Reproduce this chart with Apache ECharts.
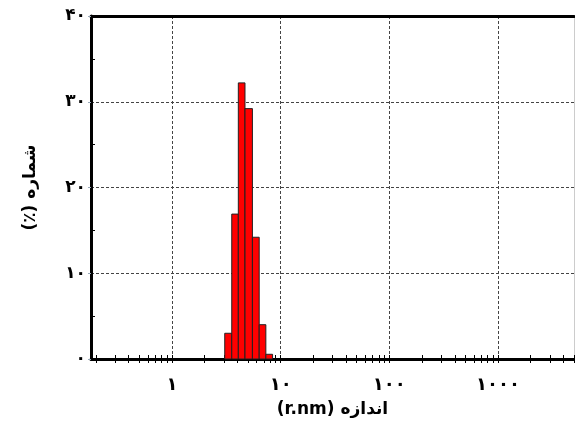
<!DOCTYPE html>
<html>
<head>
<meta charset="utf-8">
<script src="https://cdn.jsdelivr.net/npm/echarts@6/dist/echarts.min.js"></script>
<style>html,body{margin:0;padding:0;background:#fff}#c{width:575px;height:436px}</style>
</head>
<body>
<div id="c"></div>
<script>
// Bin edges (r.nm) and percentages
const binEdges = [3.06, 3.55, 4.08, 4.70, 5.50, 6.35, 7.31, 8.43];
const binValues = [3.0, 16.9, 32.2, 29.2, 14.2, 4.0, 0.55];
const xLabelValues = [1, 10, 100, 1000];
const xMinorTicks = [0.2,0.3,0.4,0.5,0.6,0.7,0.8,0.9,1,2,3,4,5,6,7,8,9,10,20,30,40,50,60,70,80,90,100,200,300,400,500,600,700,800,900,1000,2000,3000,4000,5000];
const yTicks = [0, 10, 20, 30, 40];
const yMinorTicks = [5, 15, 25, 35];
// visual (left-to-right) order of the right-to-left titles
const xTitle = '(r.nm) اندازه';
const yTitle = '(٪) شماره';

const fa = v => String(v).replace(/\d/g, d => '۰۱۲۳۴۵۶۷۸۹'[+d]);
const data = binValues.map((v, i) => [binEdges[i], binEdges[i + 1], v]);
const X_MIN = 0.18, X_MAX = 5000;
const FONT = 'DejaVu Sans';

const chart = echarts.init(document.getElementById('c'));
const baseX = {type: 'log', logBase: 10, min: X_MIN, max: X_MAX, gridIndex: 0};
const baseY = {type: 'value', min: 0, max: 40, interval: 10, gridIndex: 0};
chart.setOption({
  animation: false,
  grid: {left: 91, right: 1, top: 16, bottom: 77},
  xAxis: [
    Object.assign({}, baseX, {
      position: 'bottom',
      axisLine: {show: true, lineStyle: {color: '#000', width: 3}},
      axisTick: {show: false, customValues: xLabelValues},
      axisLabel: {customValues: xLabelValues, formatter: v => fa(Math.round(v)), color: '#000', fontFamily: FONT, fontWeight: 'bold', fontSize: 18, margin: 17},
      splitLine: {show: true, lineStyle: {color: '#444', type: [3, 2], width: 1}},
      name: xTitle, nameLocation: 'middle', nameGap: 42,
      nameTextStyle: {color: '#000', fontFamily: FONT, fontWeight: 'bold', fontSize: 17}
    }),
    Object.assign({}, baseX, {
      position: 'bottom',
      axisLine: {show: false},
      axisTick: {show: true, inside: true, length: 4, customValues: xMinorTicks, lineStyle: {color: '#000', width: 1}},
      axisLabel: {show: false},
      splitLine: {show: false}
    }),
    Object.assign({}, baseX, {
      position: 'bottom',
      axisLine: {show: false},
      axisTick: {show: true, inside: false, length: 4, customValues: xMinorTicks, lineStyle: {color: '#000', width: 1}},
      axisLabel: {show: false},
      splitLine: {show: false}
    }),
    Object.assign({}, baseX, {
      position: 'top',
      axisLine: {show: true, lineStyle: {color: '#000', width: 3}},
      axisTick: {show: false},
      axisLabel: {show: false},
      splitLine: {show: false}
    })
  ],
  yAxis: [
    Object.assign({}, baseY, {
      position: 'left',
      axisLine: {show: true, lineStyle: {color: '#000', width: 3}},
      axisTick: {show: true, length: 3, customValues: yTicks, lineStyle: {color: '#9ab', width: 1}},
      axisLabel: {customValues: yTicks, formatter: v => fa(v), color: '#000', fontFamily: FONT, fontWeight: 'bold', fontSize: 17, margin: 5},
      splitLine: {show: true, lineStyle: {color: '#444', type: [3, 2], width: 1}},
      name: yTitle, nameLocation: 'middle', nameGap: 52, nameRotate: 90,
      nameTextStyle: {color: '#000', fontFamily: FONT, fontWeight: 'bold', fontSize: 17}
    }),
    Object.assign({}, baseY, {
      position: 'left',
      axisLine: {show: false},
      axisTick: {show: true, inside: true, length: 4, customValues: yMinorTicks, lineStyle: {color: '#000', width: 1}},
      axisLabel: {show: false}, splitLine: {show: false}
    }),
    Object.assign({}, baseY, {
      position: 'right',
      axisLine: {show: true, lineStyle: {color: '#ccc', width: 1}},
      axisTick: {show: false}, axisLabel: {show: false}, splitLine: {show: false}
    })
  ],
  series: [{
    type: 'custom',
    xAxisIndex: 0, yAxisIndex: 0,
    encode: {x: [0, 1], y: 2},
    data: data,
    renderItem: (params, api) => {
      const p0 = api.coord([api.value(0), api.value(2)]);
      const p1 = api.coord([api.value(1), 0]);
      return {
        type: 'rect',
        shape: {x: p0[0], y: p0[1], width: p1[0] - p0[0], height: p1[1] - p0[1]},
        style: {fill: '#ff0000', stroke: '#222', lineWidth: 1}
      };
    }
  }]
});
</script>
</body>
</html>
